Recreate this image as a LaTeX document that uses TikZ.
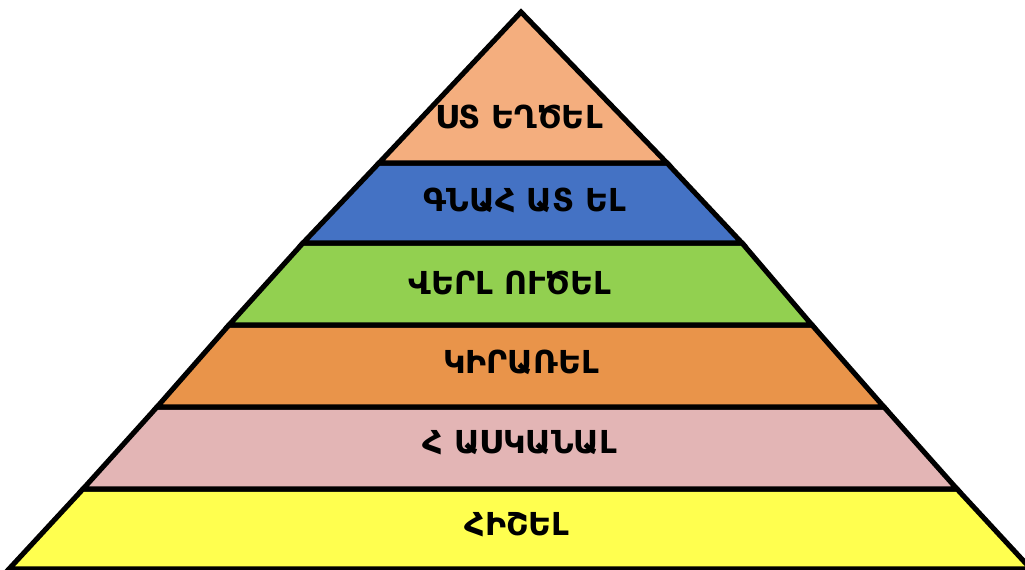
\documentclass[tikz,border=0pt]{standalone}
\usepackage{fontspec}
\newfontfamily\armfont{DejaVu Sans}

\definecolor{createcol}{HTML}{F4AE7E}
\definecolor{evalcol}{HTML}{4472C4}
\definecolor{analcol}{HTML}{92D050}
\definecolor{applycol}{HTML}{E9944A}
\definecolor{undercol}{HTML}{E3B5B5}
\definecolor{remcol}{HTML}{FFFF4F}

\tikzset{
  layer/.style={draw=black, line width=2.9pt, line join=miter},
  lbl/.style={font=\armfont\bfseries\fontsize{18}{22}\selectfont, text=black}
}

\begin{document}
\begin{tikzpicture}[x=0.02cm, y=-0.02cm]
\useasboundingbox (0,0) rectangle (1025,570);
\begin{scope}
\clip (0,0) rectangle (1025,570);
\draw [layer, fill=remcol] (83,489) -- (957,489) -- (1031,569) -- (9,569) -- cycle;
\draw [layer, fill=undercol] (157,407) -- (884,407) -- (957,489) -- (83,489) -- cycle;
\draw [layer, fill=applycol] (229,325) -- (812,325) -- (884,407) -- (157,407) -- cycle;
\draw [layer, fill=analcol] (303,243) -- (742,243) -- (812,325) -- (229,325) -- cycle;
\draw [layer, fill=evalcol] (379,163) -- (667,163) -- (742,243) -- (303,243) -- cycle;
\draw [layer, fill=createcol] (521,12) -- (667,163) -- (379,163) -- cycle;
\end{scope}
\node [lbl] (create) at (519,117) {ՍՏ ԵՂԾԵԼ};
\node [lbl] (evaluate) at (525,200) {ԳՆԱՀ ԱՏ ԵԼ};
\node [lbl] (analyze) at (510,283) {ՎԵՐԼ ՈՒԾԵԼ};
\node [lbl] (apply) at (521,362) {ԿԻՐԱՌԵԼ};
\node [lbl] (understand) at (520,443) {Հ ԱՍԿԱՆԱԼ};
\node [lbl] (remember) at (517,525) {ՀԻՇԵԼ};
\end{tikzpicture}
\end{document}
